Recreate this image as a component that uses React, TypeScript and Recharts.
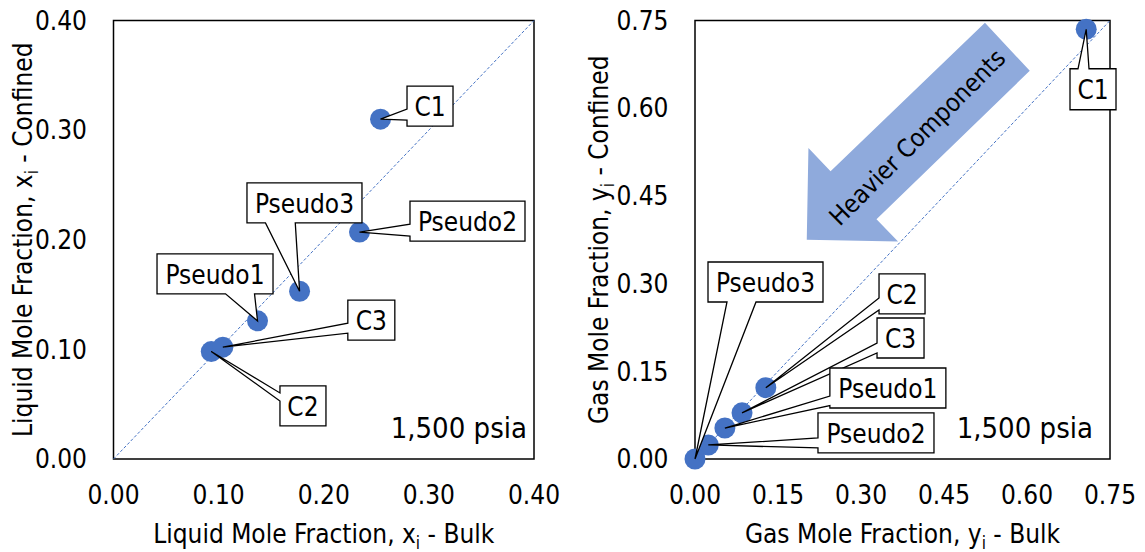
import React from 'react';
import { ScatterChart, Scatter, XAxis, YAxis, ReferenceLine, ReferenceArea, Label } from 'recharts';

const FONT = "'DejaVu Sans Condensed', 'DejaVu Sans', sans-serif";
const DOT_COLOR = '#4472C4';
const ARROW_COLOR = '#8FAADC';

// components, in the same order as the value arrays below
const components = ['C1', 'C2', 'C3', 'Pseudo1', 'Pseudo2', 'Pseudo3'];

// liquid phase mole fractions: bulk vs confined
const liquidBulk = [0.254, 0.093, 0.104, 0.137, 0.234, 0.177];
const liquidConfined = [0.31, 0.098, 0.102, 0.126, 0.207, 0.153];

// gas phase mole fractions: bulk vs confined
const gasBulk = [0.707, 0.128, 0.085, 0.054, 0.024, 0.0];
const gasConfined = [0.735, 0.122, 0.079, 0.053, 0.024, 0.0];

const liquidTicks = [0, 0.1, 0.2, 0.3, 0.4];
const gasTicks = [0, 0.15, 0.3, 0.45, 0.6, 0.75];

const pressureText = '1,500 psia';
const arrowText = 'Heavier Components';

type Side = 'left' | 'top' | 'bottom';
type Callout = { dx: number; dy: number; w: number; h: number; side: Side; a: number; b: number };

// callout box placement relative to the dot (px); a/b = tail base along the chosen edge
const liquidCallouts: Record<string, Callout> = {
  C1: { dx: 26.5, dy: -33, w: 46, h: 40, side: 'left', a: 23, b: 34 },
  C2: { dx: 68.7, dy: 34.4, w: 46, h: 40, side: 'left', a: 7, b: 15 },
  C3: { dx: 125, dy: -47, w: 47, h: 40, side: 'left', a: 23, b: 33 },
  Pseudo1: { dx: -100.5, dy: -67, w: 116, h: 40, side: 'bottom', a: 68.5, b: 97.5 },
  Pseudo2: { dx: 50.5, dy: -31, w: 115, h: 40, side: 'left', a: 23, b: 35 },
  Pseudo3: { dx: -52.6, dy: -108.3, w: 115, h: 40, side: 'bottom', a: 18.5, b: 48.3 },
};

const gasCallouts: Record<string, Callout> = {
  C1: { dx: -16.2, dy: 39.5, w: 46, h: 41, side: 'top', a: 8, b: 19 },
  C2: { dx: 113.2, dy: -113.7, w: 46, h: 40, side: 'left', a: 24, b: 36 },
  C3: { dx: 135, dy: -94.8, w: 47, h: 40, side: 'left', a: 25, b: 35 },
  Pseudo1: { dx: 105, dy: -60, w: 116, h: 40, side: 'left', a: 28, b: 37.6 },
  Pseudo2: { dx: 109.7, dy: -32, w: 116, h: 40, side: 'left', a: 25, b: 35 },
  Pseudo3: { dx: 13, dy: -197, w: 115, h: 40, side: 'bottom', a: 19, b: 48 },
};

// block arrow outline in gas-chart data units
const arrowOutline: [number, number][] = [
  [0.524, 0.746], [0.605, 0.664], [0.328, 0.41], [0.367, 0.372],
  [0.202, 0.375], [0.205, 0.532], [0.245, 0.492],
];
const arrowTextAt: [number, number] = [0.402, 0.55];

function calloutPath(cx: number, cy: number, c: Callout) {
  const L = cx + c.dx, T = cy + c.dy, R = L + c.w, B = T + c.h;
  const tip = `L${cx},${cy}`;
  if (c.side === 'top') {
    return `M${L},${T} L${L + c.a},${T} ${tip} L${L + c.b},${T} L${R},${T} L${R},${B} L${L},${B} Z`;
  }
  if (c.side === 'bottom') {
    return `M${L},${T} L${R},${T} L${R},${B} L${L + c.b},${B} ${tip} L${L + c.a},${B} L${L},${B} Z`;
  }
  return `M${L},${T} L${R},${T} L${R},${B} L${L},${B} L${L},${T + c.b} ${tip} L${L},${T + c.a} Z`;
}

const Dot = (p: any) => <circle cx={p.cx} cy={p.cy} r={10.5} fill={DOT_COLOR} />;

const CalloutShape = (p: any) => {
  const c: Callout | undefined = p.callouts[p.payload?.name];
  if (!c || p.cx == null) return <g />;
  return (
    <g>
      <path d={calloutPath(p.cx, p.cy, c)} fill="#fff" stroke="#000" strokeWidth={1.3} strokeLinejoin="miter" />
      <text
        x={p.cx + c.dx + c.w / 2}
        y={p.cy + c.dy + c.h / 2 + 10}
        textAnchor="middle"
        fontSize={26}
        fontFamily={FONT}
        fill="#000"
      >
        {p.payload.name}
      </text>
    </g>
  );
};

// plot border, pressure note and (optionally) the block arrow
const PlotFrame = (p: any) => {
  const { x, y, width, height, max, inset, withArrow } = p;
  const toPx = (u: number, v: number) => [x + (u / max) * width, y + height - (v / max) * height];
  const [tx, ty] = toPx(arrowTextAt[0], arrowTextAt[1]);
  return (
    <g>
      <rect x={x} y={y} width={width} height={height} fill="none" stroke="#000" strokeWidth={1.5} />
      {withArrow && (
        <g>
          <polygon points={arrowOutline.map(([u, v]) => toPx(u, v).join(',')).join(' ')} fill={ARROW_COLOR} />
          <text
            x={tx}
            y={ty}
            transform={`rotate(-45, ${tx}, ${ty})`}
            textAnchor="middle"
            dominantBaseline="central"
            fontSize={25}
            fontFamily={FONT}
            fill="#000"
          >
            {arrowText}
          </text>
        </g>
      )}
      <text x={x + width - inset} y={y + height - 21} textAnchor="end" fontSize={29} fontFamily={FONT} fill="#000">
        {pressureText}
      </text>
    </g>
  );
};

const SubTitle = ({ pre, post, x, y, rotate }: any) => (
  <text
    x={x}
    y={y}
    transform={rotate ? `rotate(-90, ${x}, ${y})` : undefined}
    textAnchor="middle"
    fontSize={26}
    fontFamily={FONT}
    fill="#000"
  >
    {pre}
    <tspan fontSize={17} dy={6}>i</tspan>
    <tspan dy={-6}>{post}</tspan>
  </text>
);

interface PhaseChartProps {
  bulk: number[];
  confined: number[];
  ticks: number[];
  max: number;
  callouts: Record<string, Callout>;
  phase: string;
  symbol: string;
  left: number;
  width: number;
  marginLeft: number;
  marginRight: number;
  yTitleGap: number;
  pressureInset: number;
  withArrow?: boolean;
}

const PhaseChart: React.FC<PhaseChartProps> = (props) => {
  const { bulk, confined, ticks, max, callouts, phase, symbol } = props;
  const data = components.map((name, i) => ({ name, bulk: bulk[i], confined: confined[i] }));
  const tickStyle = { fill: '#000', fontSize: 26, fontFamily: FONT };
  return (
    <div style={{ position: 'absolute', left: props.left, top: 0 }}>
      <ScatterChart
        width={props.width}
        height={552}
        margin={{ top: 20.5, right: props.marginRight, bottom: 0, left: props.marginLeft }}
      >
        <XAxis
          type="number"
          dataKey="bulk"
          domain={[0, max]}
          ticks={ticks}
          height={93}
          axisLine={false}
          tickLine={false}
          tickSize={0}
          tickMargin={26.5}
          tick={tickStyle}
          tickFormatter={(v: number) => v.toFixed(2)}
        >
          <Label
            content={({ viewBox }: any) => (
              <SubTitle
                pre={`${phase} Mole Fraction, ${symbol}`}
                post=" - Bulk"
                x={viewBox.x + viewBox.width / 2}
                y={viewBox.y + 84}
              />
            )}
          />
        </XAxis>
        <YAxis
          type="number"
          dataKey="confined"
          domain={[0, max]}
          ticks={ticks}
          width={100}
          axisLine={false}
          tickLine={false}
          tickSize={0}
          tickMargin={26.5}
          tick={tickStyle}
          tickFormatter={(v: number) => v.toFixed(2)}
        >
          <Label
            content={({ viewBox }: any) => (
              <SubTitle
                pre={`${phase} Mole Fraction, ${symbol}`}
                post=" - Confined"
                x={viewBox.x + viewBox.width - props.yTitleGap}
                y={viewBox.y + viewBox.height / 2}
                rotate
              />
            )}
          />
        </YAxis>
        <ReferenceArea
          x1={0}
          x2={max}
          y1={0}
          y2={max}
          shape={(p: any) => (
            <PlotFrame {...p} max={max} inset={props.pressureInset} withArrow={props.withArrow} />
          )}
        />
        <ReferenceLine
          segment={[{ x: 0, y: 0 }, { x: max, y: max }]}
          stroke={DOT_COLOR}
          strokeWidth={1}
          strokeDasharray="3 2"
        />
        <Scatter data={data} isAnimationActive={false} shape={Dot} />
        <Scatter
          data={data}
          isAnimationActive={false}
          shape={(p: any) => <CalloutShape {...p} callouts={callouts} />}
        />
      </ScatterChart>
    </div>
  );
};

export default function App() {
  return (
    <div style={{ position: 'absolute', left: 0, top: 0, width: 1145, height: 552, background: '#fff' }}>
      <PhaseChart
        bulk={liquidBulk}
        confined={liquidConfined}
        ticks={liquidTicks}
        max={0.4}
        callouts={liquidCallouts}
        phase="Liquid"
        symbol="x"
        left={0}
        width={572}
        marginLeft={13.5}
        marginRight={38}
        yTitleGap={81.5}
        pressureInset={7}
      />
      <PhaseChart
        bulk={gasBulk}
        confined={gasConfined}
        ticks={gasTicks}
        max={0.75}
        callouts={gasCallouts}
        phase="Gas"
        symbol="y"
        left={572}
        width={573}
        marginLeft={23}
        marginRight={35}
        yTitleGap={87}
        pressureInset={17}
        withArrow
      />
    </div>
  );
}
